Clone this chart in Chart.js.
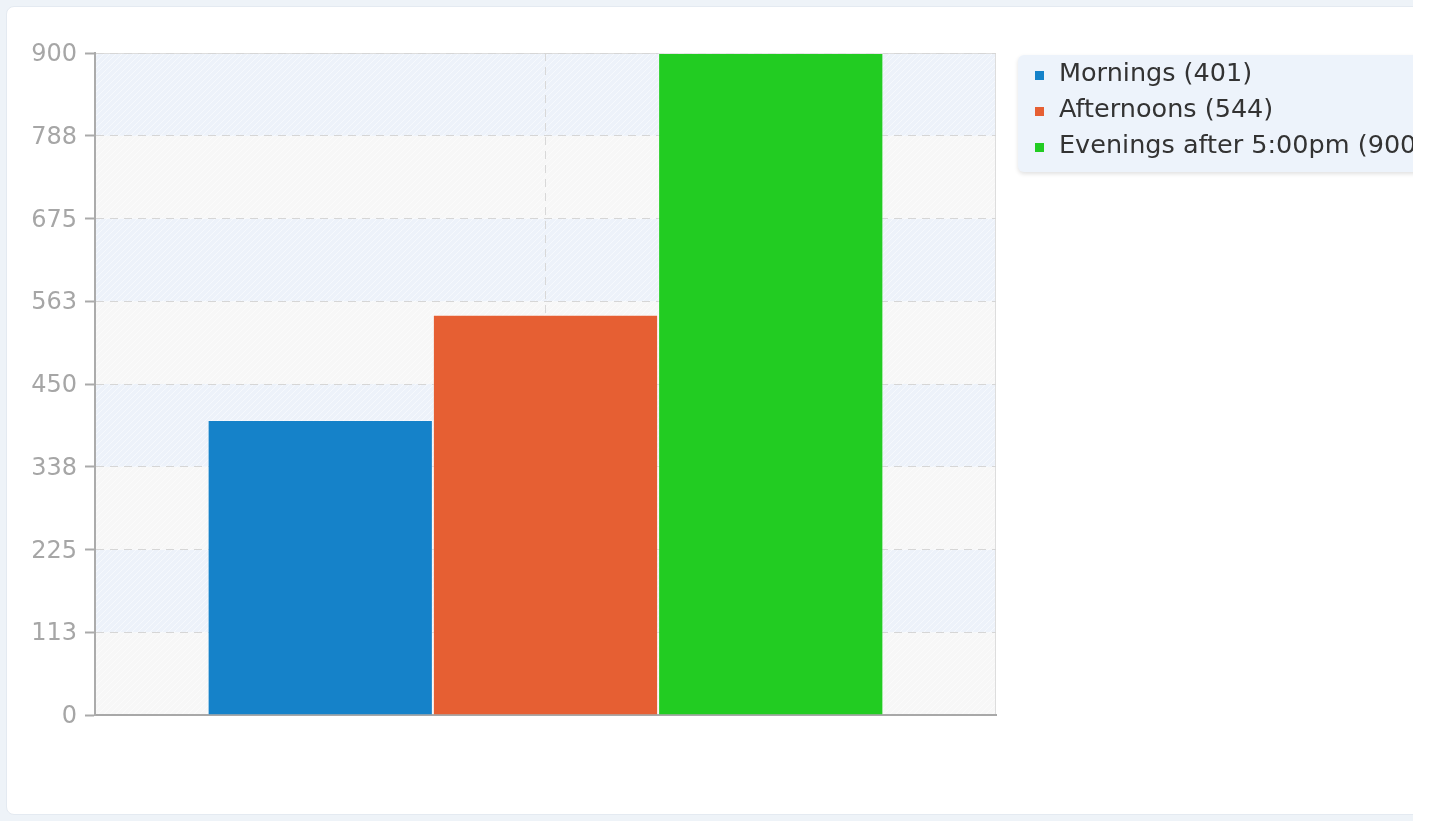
<!DOCTYPE html>
<html>
<head>
<meta charset="utf-8">
<script src="https://cdn.jsdelivr.net/npm/chart.js@4"></script>
<style>
  body { margin: 0; background: #fff; }
  .outer { position: absolute; left: 0; top: 0; width: 1413px; height: 821px; background: #eef3f8; overflow: hidden; }
  .card { position: absolute; left: 6px; top: 6px; width: 1430px; height: 807px; background: #fff; border: 1px solid #e4eaf1; border-radius: 8px; }
  .card canvas { position: absolute; left: 0; top: 0; }
</style>
</head>
<body>
<div class="outer">
  <div class="card">
    <canvas id="myChart" width="1407" height="807"></canvas>
  </div>
</div>
<script>
const categories = ['']
const seriesNames = ['Mornings', 'Afternoons', 'Evenings after 5:00pm']
const seriesValues = [401, 544, 900]
const seriesColors = ['#1582c9', '#e65f33', '#22cc22']
const yTickLabels = ['0', '113', '225', '338', '450', '563', '675', '788', '900']

const fontFamily = '"DejaVu Sans", sans-serif'

// little hatched tile for the plot bands
function makePattern(ctx, base) {
    const c = document.createElement('canvas')
    c.width = 6
    c.height = 6
    const p = c.getContext('2d')
    p.fillStyle = base
    p.fillRect(0, 0, 6, 6)
    p.strokeStyle = 'rgba(255,255,255,0.5)'
    p.lineWidth = 1
    p.beginPath()
    p.moveTo(0, 6)
    p.lineTo(6, 0)
    p.stroke()
    return ctx.createPattern(c, 'repeat')
}

const bandsPlugin = {
    id: 'bands',
    beforeDraw(chart) {
        const { ctx, chartArea, scales } = chart
        const y = scales.y
        const blue = makePattern(ctx, '#edf2fa')
        const grey = makePattern(ctx, '#f7f7f7')
        ctx.save()
        for (let i = 0; i < y.ticks.length - 1; i++) {
            const top = y.getPixelForValue(y.ticks[i + 1].value)
            const bottom = y.getPixelForValue(y.ticks[i].value)
            ctx.fillStyle = i % 2 == 0 ? grey : blue
            ctx.fillRect(chartArea.left, top, chartArea.right - chartArea.left, bottom - top)
        }
        // light frame top / right
        ctx.strokeStyle = '#dddddd'
        ctx.lineWidth = 1
        ctx.beginPath()
        ctx.moveTo(chartArea.left, chartArea.top + 0.5)
        ctx.lineTo(chartArea.right - 0.5, chartArea.top + 0.5)
        ctx.lineTo(chartArea.right - 0.5, chartArea.bottom)
        ctx.stroke()
        ctx.restore()
    }
}

const legendPlugin = {
    id: 'boxLegend',
    afterDraw(chart) {
        const { ctx } = chart
        const x0 = 1011, y0 = 48, w = 430, h = 117
        ctx.save()
        ctx.shadowColor = 'rgba(0,0,0,0.12)'
        ctx.shadowBlur = 4
        ctx.shadowOffsetY = 2
        ctx.fillStyle = '#edf3fb'
        ctx.beginPath()
        ctx.roundRect(x0, y0, w, h, 6)
        ctx.fill()
        ctx.restore()

        ctx.save()
        ctx.font = '25.5px ' + fontFamily
        ctx.textBaseline = 'middle'
        chart.data.datasets.forEach((ds, i) => {
            const cy = 67 + i * 36
            ctx.fillStyle = ds.backgroundColor
            ctx.fillRect(1028, cy - 3, 9, 9)
            ctx.fillStyle = '#333333'
            ctx.fillText(ds.label, 1052, cy)
        })
        ctx.restore()
    }
}

const ctx = document.getElementById('myChart').getContext('2d')

const datasets = seriesNames.map((name, i) => ({
    label: `${name} (${seriesValues[i]})`,
    data: [seriesValues[i]],
    backgroundColor: seriesColors[i],
    borderColor: 'rgba(255,255,255,0.35)',
    borderWidth: 1,
    categoryPercentage: 0.75,
    barPercentage: 1.0
}))

new Chart(ctx, {
    type: 'bar',
    data: { labels: categories, datasets: datasets },
    plugins: [bandsPlugin, legendPlugin],
    options: {
        responsive: false,
        animation: false,
        layout: { padding: { left: 0, top: 46, right: 418, bottom: 99 } },
        plugins: {
            legend: { display: false },
            tooltip: { enabled: false }
        },
        scales: {
            x: {
                ticks: { display: false },
                grid: {
                    offset: false,
                    color: '#d8d8d8',
                    drawTicks: false
                },
                border: { color: '#a8a8a8', width: 2, dash: [8, 6] }
            },
            y: {
                min: 0,
                max: 900,
                afterFit(scale) { scale.width = 88 },
                ticks: {
                    stepSize: 112.5,
                    padding: 8,
                    labelOffset: 2,
                    color: '#a6a6a6',
                    font: { family: fontFamily, size: 24 },
                    callback: (v, i) => yTickLabels[i]
                },
                grid: {
                    color: '#d6d6d6',
                    tickColor: '#aaaaaa',
                    tickLength: 10,
                    tickBorderDash: [],
                    tickWidth: 2
                },
                // in v4 the dash on border applies to the grid lines
                border: { color: '#ababab', width: 2, dash: [8, 6] }
            }
        }
    }
})
</script>
</body>
</html>
